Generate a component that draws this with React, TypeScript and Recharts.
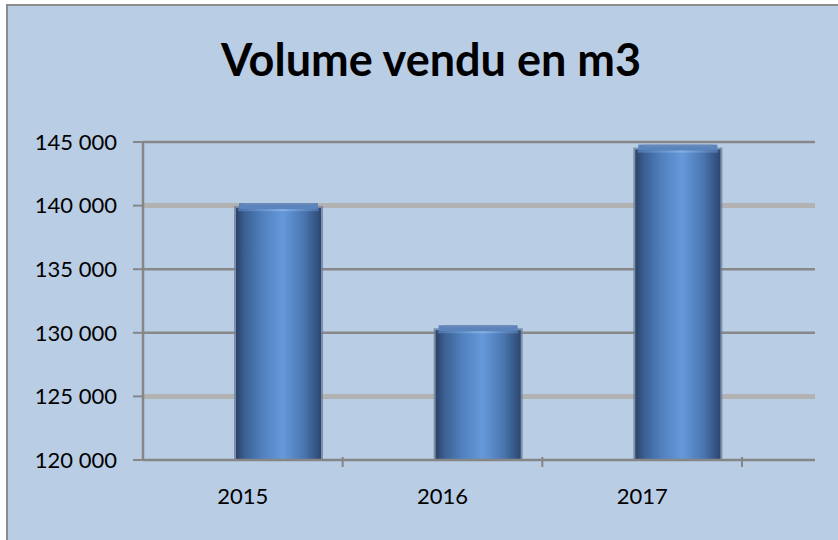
import { BarChart, Bar, XAxis, YAxis, CartesianGrid } from "recharts";

const years = ["2015", "2016", "2017"];
const volumes = [139800, 130200, 144400];
const yTicks = [120000, 125000, 130000, 135000, 140000, 145000];

const data = years.map((year, i) => ({ year, volume: volumes[i] }));

const FONT = "Lato, 'Open Sans', sans-serif";
const BG = "#b9cde5";
const AXIS = "#868686";

const formatThousands = (n: number) =>
    String(n).replace(/\B(?=(\d{3})+(?!\d))/g, " ");

// grid lines: Excel renders some of them thick and light, keep that look
const gridStyle = (index: number) =>
    index === 1 || index === 4
        ? { stroke: "#b2b2b2", strokeWidth: 5 }
        : { stroke: "#888888", strokeWidth: 2.5 };

const GridLine = (props: any) => {
    const { x1, x2, y1, y2, index } = props;
    if (index === 0) return null;
    return <line x1={x1} x2={x2} y1={y1} y2={y2} {...gridStyle(index)} />;
};

const XTick = (props: any) => {
    const { x, y, payload, index } = props;
    const half = payload && payload.offset ? payload.offset : 100;
    return (
        <g>
            {index > 0 && (
                <line x1={x - half} x2={x - half} y1={y - 3} y2={y + 7} stroke={AXIS} strokeWidth={2} />
            )}
            {index === years.length - 1 && (
                <line x1={x + half} x2={x + half} y1={y - 3} y2={y + 7} stroke={AXIS} strokeWidth={2} />
            )}
            <text x={x} y={y + 44} textAnchor="middle" fontFamily={FONT} fontSize={22} fill="#000">
                {payload.value}
            </text>
        </g>
    );
};

const Cylinder = (props: any) => {
    const { x, y, width, height } = props;
    const bx = x + 36;
    return (
        <g>
            <rect x={bx - 2} y={y - 2} width={width + 4} height={height + 2} fill="#6e809a" opacity={0.8} />
            <rect x={bx} y={y} width={width} height={height} fill="url(#cyl)" />
            <rect x={bx + 3} y={y - 5} width={width - 6} height={6} fill="#5a84bb" />
            <rect x={bx + 8} y={y - 5} width={width - 16} height={2} fill="#6a8aba" />
            <rect x={bx + 2} y={y + 1} width={width - 4} height={2} fill="url(#capHi)" />
        </g>
    );
};

export default function App() {
    return (
        <div style={{ position: "absolute", left: 0, top: 0, width: 838, height: 540, background: "#fff", overflow: "hidden" }}>
            <div
                style={{
                    position: "absolute",
                    left: 6,
                    top: 4,
                    width: 900,
                    height: 600,
                    background: BG,
                    borderLeft: "2px solid #8c8c8c",
                    borderTop: "2px solid #8c8c8c",
                }}
            />
            <div style={{ position: "absolute", left: 0, top: 0 }}>
                <BarChart
                    width={838}
                    height={540}
                    data={data}
                    margin={{ top: 142, right: 23, bottom: 40, left: 8 }}
                >
                    <defs>
                        <linearGradient id="cyl" x1="0" y1="0" x2="1" y2="0">
                            <stop offset="0%" stopColor="#2a4266" />
                            <stop offset="10%" stopColor="#3b5f92" />
                            <stop offset="30%" stopColor="#4f7fbd" />
                            <stop offset="55%" stopColor="#6699db" />
                            <stop offset="80%" stopColor="#4a76b0" />
                            <stop offset="100%" stopColor="#2c4770" />
                        </linearGradient>
                        <linearGradient id="capHi" x1="0" y1="0" x2="1" y2="0">
                            <stop offset="0%" stopColor="#4a72a8" />
                            <stop offset="55%" stopColor="#86b0e6" />
                            <stop offset="100%" stopColor="#4a72a8" />
                        </linearGradient>
                    </defs>
                    <text x={431} y={76} textAnchor="middle" fontFamily={FONT} fontWeight={700} fontSize={45} fill="#000">
                        Volume vendu en m3
                    </text>
                    <CartesianGrid vertical={false} horizontal={GridLine} />
                    <XAxis
                        dataKey="year"
                        padding={{ left: 0, right: 73 }}
                        tickLine={false}
                        axisLine={{ stroke: AXIS, strokeWidth: 2.5 }}
                        tick={XTick}
                        tickSize={0}
                        tickMargin={0}
                        height={40}
                        interval={0}
                    />
                    <YAxis
                        domain={[120000, 145000]}
                        ticks={yTicks}
                        width={135}
                        tickSize={10}
                        tickMargin={16}
                        tickLine={{ stroke: AXIS, strokeWidth: 2 }}
                        axisLine={{ stroke: AXIS, strokeWidth: 2.5 }}
                        tickFormatter={formatThousands}
                        tick={{ fill: "#000", fontFamily: FONT, fontSize: 22 }}
                        allowDataOverflow
                    />
                    <Bar dataKey="volume" barSize={85} shape={Cylinder} isAnimationActive={false} />
                </BarChart>
            </div>
        </div>
    );
}
